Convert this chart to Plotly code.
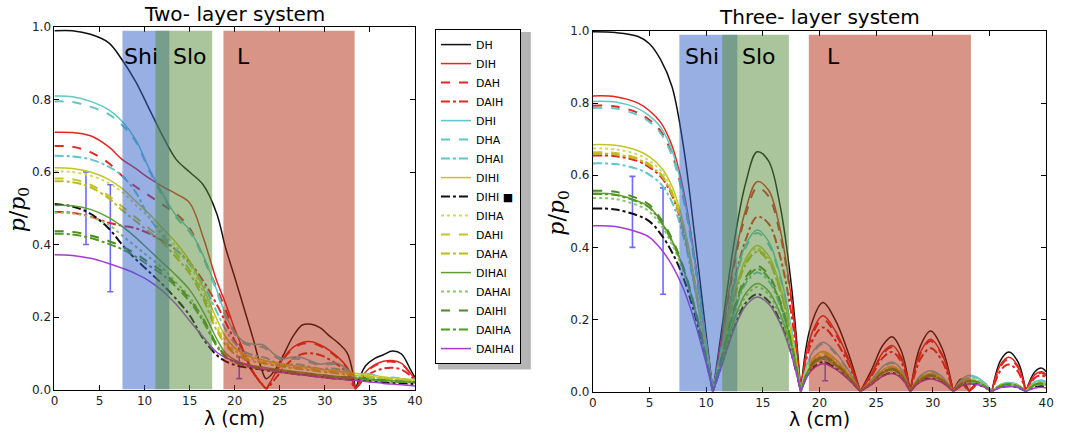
import plotly.graph_objects as go

# ---------------- data ----------------
X_TWO = [0, 2, 4, 6, 7.5, 9, 10.5, 12, 13.5, 15, 16.5, 18, 19, 20, 21, 22, 23, 23.5, 24.5, 25.5,
         26.5, 27.5, 28.5, 29.5, 30.5, 31.5, 32.5, 33.4, 34.5, 35.5, 36.5, 37.5, 38.5, 39.5, 40]
X_THREE = [0, 2, 4, 5, 6, 7, 8, 9, 10, 10.6, 11.5, 12.5, 13.5, 14.5, 15.5, 16.5, 17.5, 18.35,
           19.2, 20.3, 21.4, 22.5, 23.6, 24.6, 25.6, 26.4, 27.2, 28, 28.9, 29.8, 30.8, 31.8,
           32.5, 33.2, 34.2, 35.2, 36, 36.7, 37.5, 38.2, 39, 39.6, 40]

NAMES = ["DH", "DIH", "DAH", "DAIH", "DHI", "DHA", "DHAI", "DIHI", "DIHI \u25a0", "DIHA",
         "DAHI", "DAHA", "DIHAI", "DAHAI", "DAIHI", "DAIHA", "DAIHAI"]

# two-layer system
DH_TWO = [0.99, 0.99, 0.98, 0.957, 0.91, 0.85, 0.775, 0.70, 0.635, 0.60, 0.565, 0.486, 0.39, 0.31, 0.227, 0.144, 0.055, 0.03, 0.055, 0.10, 0.148, 0.178, 0.18, 0.17, 0.148, 0.128, 0.10, 0.0, 0.065, 0.085, 0.096, 0.106, 0.098, 0.055, 0.033]
DIH_TWO = [0.71, 0.709, 0.70, 0.67, 0.635, 0.61, 0.583, 0.56, 0.54, 0.515, 0.42, 0.30, 0.237, 0.167, 0.107, 0.052, 0.015, 0.0, 0.045, 0.09, 0.117, 0.13, 0.132, 0.123, 0.108, 0.088, 0.06, 0.0, 0.048, 0.068, 0.078, 0.08, 0.072, 0.045, 0.029]
DAH_TWO = [0.672, 0.67, 0.655, 0.625, 0.59, 0.56, 0.535, 0.51, 0.485, 0.445, 0.365, 0.28, 0.22, 0.155, 0.1, 0.05, 0.014, 0.0, 0.043, 0.087, 0.113, 0.126, 0.128, 0.12, 0.105, 0.085, 0.058, 0.0, 0.046, 0.065, 0.075, 0.077, 0.07, 0.044, 0.028]
DAIH_TWO = [0.49, 0.488, 0.477, 0.46, 0.452, 0.445, 0.43, 0.41, 0.385, 0.35, 0.3, 0.235, 0.185, 0.135, 0.09, 0.048, 0.016, 0.004, 0.03, 0.062, 0.085, 0.098, 0.1, 0.095, 0.083, 0.067, 0.045, 0.005, 0.035, 0.05, 0.058, 0.06, 0.055, 0.038, 0.025]
DHI_TWO = [0.81, 0.808, 0.795, 0.772, 0.74, 0.69, 0.61, 0.54, 0.48, 0.44, 0.37, 0.275, 0.205, 0.158, 0.132, 0.125, 0.124, 0.118, 0.095, 0.085, 0.09, 0.088, 0.078, 0.07, 0.074, 0.072, 0.055, 0.038, 0.044, 0.04, 0.03, 0.034, 0.03, 0.027, 0.03]
DHA_TWO = [0.795, 0.793, 0.78, 0.76, 0.73, 0.685, 0.605, 0.535, 0.475, 0.435, 0.365, 0.27, 0.2, 0.155, 0.128, 0.12, 0.118, 0.112, 0.09, 0.08, 0.085, 0.083, 0.074, 0.067, 0.07, 0.068, 0.052, 0.036, 0.042, 0.038, 0.028, 0.032, 0.028, 0.026, 0.028]
DHAI_TWO = [0.645, 0.643, 0.635, 0.615, 0.59, 0.545, 0.475, 0.425, 0.385, 0.345, 0.29, 0.215, 0.165, 0.128, 0.105, 0.095, 0.09, 0.087, 0.075, 0.068, 0.07, 0.068, 0.062, 0.057, 0.058, 0.056, 0.046, 0.034, 0.038, 0.034, 0.026, 0.028, 0.025, 0.023, 0.025]
DIHI_TWO = [0.612, 0.61, 0.6, 0.58, 0.555, 0.52, 0.485, 0.445, 0.405, 0.355, 0.28, 0.195, 0.145, 0.115, 0.098, 0.088, 0.082, 0.079, 0.074, 0.07, 0.066, 0.063, 0.06, 0.057, 0.054, 0.051, 0.048, 0.045, 0.042, 0.038, 0.035, 0.032, 0.03, 0.028, 0.027]
DIHISQ_TWO = [0.512, 0.505, 0.485, 0.445, 0.4, 0.36, 0.325, 0.29, 0.25, 0.205, 0.14, 0.095, 0.078, 0.068, 0.062, 0.058, 0.055, 0.053, 0.05, 0.047, 0.044, 0.041, 0.038, 0.035, 0.032, 0.03, 0.028, 0.026, 0.024, 0.022, 0.02, 0.018, 0.017, 0.016, 0.015]
DIHA_TWO = [0.602, 0.6, 0.59, 0.57, 0.545, 0.51, 0.475, 0.435, 0.395, 0.345, 0.27, 0.18, 0.135, 0.108, 0.092, 0.083, 0.077, 0.075, 0.07, 0.066, 0.063, 0.06, 0.057, 0.054, 0.051, 0.048, 0.045, 0.042, 0.039, 0.036, 0.033, 0.03, 0.028, 0.026, 0.025]
DAHI_TWO = [0.582, 0.58, 0.565, 0.535, 0.505, 0.475, 0.445, 0.415, 0.375, 0.33, 0.26, 0.17, 0.128, 0.102, 0.088, 0.08, 0.075, 0.073, 0.068, 0.064, 0.061, 0.058, 0.055, 0.052, 0.049, 0.046, 0.043, 0.04, 0.037, 0.034, 0.031, 0.029, 0.027, 0.025, 0.024]
DAHA_TWO = [0.575, 0.572, 0.558, 0.528, 0.495, 0.465, 0.435, 0.405, 0.365, 0.32, 0.25, 0.163, 0.123, 0.098, 0.085, 0.078, 0.073, 0.071, 0.066, 0.062, 0.059, 0.056, 0.053, 0.05, 0.047, 0.044, 0.041, 0.038, 0.035, 0.032, 0.03, 0.028, 0.026, 0.024, 0.023]
DIHAI_TWO = [0.508, 0.507, 0.497, 0.475, 0.45, 0.42, 0.385, 0.35, 0.315, 0.275, 0.215, 0.14, 0.1, 0.082, 0.072, 0.066, 0.062, 0.06, 0.056, 0.053, 0.05, 0.047, 0.044, 0.041, 0.038, 0.036, 0.034, 0.032, 0.03, 0.028, 0.026, 0.024, 0.022, 0.021, 0.02]
DAHAI_TWO = [0.488, 0.486, 0.476, 0.455, 0.425, 0.395, 0.365, 0.335, 0.295, 0.255, 0.195, 0.125, 0.092, 0.076, 0.068, 0.063, 0.059, 0.057, 0.053, 0.05, 0.047, 0.044, 0.041, 0.039, 0.036, 0.034, 0.032, 0.03, 0.028, 0.026, 0.024, 0.022, 0.021, 0.02, 0.019]
DAIHI_TWO = [0.437, 0.435, 0.425, 0.41, 0.395, 0.375, 0.35, 0.325, 0.29, 0.25, 0.195, 0.125, 0.092, 0.077, 0.068, 0.063, 0.059, 0.057, 0.054, 0.051, 0.048, 0.045, 0.042, 0.04, 0.037, 0.035, 0.033, 0.031, 0.029, 0.027, 0.025, 0.023, 0.022, 0.021, 0.02]
DAIHA_TWO = [0.43, 0.428, 0.418, 0.402, 0.387, 0.367, 0.342, 0.317, 0.283, 0.243, 0.188, 0.12, 0.089, 0.075, 0.066, 0.061, 0.057, 0.055, 0.052, 0.049, 0.046, 0.043, 0.041, 0.039, 0.036, 0.034, 0.032, 0.03, 0.028, 0.026, 0.024, 0.022, 0.021, 0.02, 0.019]
DAIHAI_TWO = [0.372, 0.37, 0.362, 0.348, 0.335, 0.32, 0.3, 0.272, 0.235, 0.19, 0.145, 0.103, 0.088, 0.078, 0.07, 0.063, 0.057, 0.055, 0.05, 0.046, 0.043, 0.04, 0.037, 0.034, 0.031, 0.029, 0.027, 0.025, 0.022, 0.02, 0.017, 0.015, 0.013, 0.011, 0.01]

# three-layer system
DH_THREE = [0.998, 0.996, 0.985, 0.965, 0.92, 0.845, 0.68, 0.43, 0.16, 0, 0.2, 0.42, 0.58, 0.665, 0.64, 0.52, 0.3, 0, 0.178, 0.247, 0.198, 0.111, 0, 0.061, 0.129, 0.152, 0.114, 0, 0.126, 0.168, 0.121, 0, 0.035, 0, 0.03, 0, 0.088, 0.11, 0.083, 0, 0.055, 0.065, 0.055]
DIH_THREE = [0.82, 0.818, 0.8, 0.779, 0.746, 0.681, 0.558, 0.369, 0.139, 0, 0.175, 0.367, 0.506, 0.582, 0.559, 0.454, 0.262, 0, 0.151, 0.21, 0.168, 0.095, 0, 0.051, 0.109, 0.128, 0.096, 0, 0.109, 0.145, 0.104, 0, 0.025, 0, 0.028, 0, 0.076, 0.095, 0.071, 0, 0.047, 0.055, 0.047]
DAH_THREE = [0.793, 0.791, 0.773, 0.753, 0.722, 0.658, 0.539, 0.357, 0.135, 0, 0.17, 0.356, 0.492, 0.565, 0.542, 0.441, 0.254, 0, 0.144, 0.2, 0.16, 0.09, 0, 0.049, 0.105, 0.123, 0.092, 0, 0.105, 0.14, 0.101, 0, 0.024, 0, 0.027, 0, 0.072, 0.09, 0.068, 0, 0.044, 0.052, 0.044]
DAIH_THREE = [0.655, 0.653, 0.639, 0.622, 0.596, 0.544, 0.445, 0.295, 0.111, 0, 0.146, 0.306, 0.422, 0.485, 0.466, 0.378, 0.218, 0, 0.128, 0.178, 0.142, 0.08, 0, 0.044, 0.094, 0.11, 0.083, 0, 0.09, 0.12, 0.086, 0, 0.02, 0, 0.022, 0, 0.06, 0.075, 0.056, 0, 0.038, 0.045, 0.038]
DHI_THREE = [0.805, 0.803, 0.785, 0.765, 0.733, 0.668, 0.547, 0.362, 0.137, 0, 0.143, 0.3, 0.408, 0.448, 0.417, 0.327, 0.179, 0, 0.099, 0.137, 0.11, 0.062, 0, 0.033, 0.07, 0.082, 0.062, 0, 0.044, 0.058, 0.042, 0, 0.032, 0.045, 0.034, 0, 0.02, 0.025, 0.019, 0, 0.027, 0.032, 0.027]
DHA_THREE = [0.787, 0.785, 0.767, 0.748, 0.716, 0.653, 0.535, 0.354, 0.134, 0, 0.141, 0.295, 0.4, 0.44, 0.409, 0.321, 0.176, 0, 0.095, 0.132, 0.106, 0.059, 0, 0.032, 0.067, 0.079, 0.059, 0, 0.042, 0.056, 0.04, 0, 0.03, 0.043, 0.032, 0, 0.019, 0.024, 0.018, 0, 0.026, 0.03, 0.026]
DHAI_THREE = [0.633, 0.631, 0.617, 0.601, 0.576, 0.525, 0.43, 0.285, 0.108, 0, 0.106, 0.221, 0.3, 0.33, 0.307, 0.241, 0.132, 0, 0.079, 0.11, 0.088, 0.05, 0, 0.026, 0.056, 0.066, 0.05, 0, 0.035, 0.047, 0.034, 0, 0.027, 0.038, 0.029, 0, 0.018, 0.022, 0.017, 0, 0.024, 0.028, 0.024]
DIHI_THREE = [0.685, 0.683, 0.668, 0.651, 0.623, 0.569, 0.466, 0.308, 0.116, 0, 0.13, 0.271, 0.369, 0.405, 0.377, 0.296, 0.162, 0, 0.081, 0.112, 0.09, 0.05, 0, 0.028, 0.06, 0.07, 0.053, 0, 0.038, 0.05, 0.036, 0, 0.025, 0.035, 0.026, 0, 0.018, 0.022, 0.017, 0, 0.021, 0.025, 0.021]
DIHISQ_THREE = [0.508, 0.505, 0.488, 0.472, 0.437, 0.386, 0.315, 0.213, 0.086, 0, 0.086, 0.181, 0.246, 0.27, 0.251, 0.197, 0.108, 0, 0.059, 0.082, 0.066, 0.037, 0, 0.021, 0.044, 0.052, 0.039, 0, 0.029, 0.038, 0.027, 0, 0.015, 0.022, 0.017, 0, 0.012, 0.015, 0.011, 0, 0.013, 0.015, 0.013]
DIHA_THREE = [0.674, 0.672, 0.657, 0.64, 0.613, 0.559, 0.458, 0.303, 0.115, 0, 0.127, 0.267, 0.362, 0.398, 0.37, 0.291, 0.159, 0, 0.078, 0.108, 0.086, 0.049, 0, 0.027, 0.058, 0.068, 0.051, 0, 0.036, 0.048, 0.035, 0, 0.023, 0.033, 0.025, 0, 0.017, 0.021, 0.016, 0, 0.02, 0.024, 0.02]
DAHI_THREE = [0.664, 0.662, 0.647, 0.631, 0.604, 0.551, 0.452, 0.299, 0.113, 0, 0.125, 0.263, 0.357, 0.392, 0.365, 0.286, 0.157, 0, 0.075, 0.104, 0.083, 0.047, 0, 0.026, 0.056, 0.066, 0.05, 0, 0.035, 0.047, 0.034, 0, 0.022, 0.032, 0.024, 0, 0.017, 0.021, 0.016, 0, 0.02, 0.023, 0.02]
DAHA_THREE = [0.66, 0.658, 0.644, 0.627, 0.601, 0.548, 0.449, 0.297, 0.112, 0, 0.124, 0.26, 0.353, 0.388, 0.361, 0.283, 0.155, 0, 0.072, 0.1, 0.08, 0.045, 0, 0.026, 0.054, 0.064, 0.048, 0, 0.035, 0.046, 0.033, 0, 0.022, 0.031, 0.023, 0, 0.016, 0.02, 0.015, 0, 0.02, 0.023, 0.02]
DIHAI_THREE = [0.55, 0.547, 0.528, 0.512, 0.473, 0.418, 0.341, 0.231, 0.094, 0, 0.096, 0.201, 0.273, 0.3, 0.279, 0.219, 0.12, 0, 0.065, 0.09, 0.072, 0.041, 0, 0.024, 0.051, 0.06, 0.045, 0, 0.032, 0.042, 0.03, 0, 0.021, 0.03, 0.023, 0, 0.016, 0.02, 0.015, 0, 0.019, 0.022, 0.019]
DAHAI_THREE = [0.537, 0.534, 0.516, 0.499, 0.462, 0.408, 0.333, 0.226, 0.091, 0, 0.093, 0.194, 0.264, 0.29, 0.27, 0.212, 0.116, 0, 0.063, 0.088, 0.07, 0.04, 0, 0.023, 0.049, 0.058, 0.044, 0, 0.031, 0.041, 0.03, 0, 0.02, 0.028, 0.021, 0, 0.015, 0.019, 0.014, 0, 0.018, 0.021, 0.018]
DAIHI_THREE = [0.557, 0.554, 0.535, 0.518, 0.479, 0.423, 0.345, 0.234, 0.095, 0, 0.111, 0.233, 0.317, 0.348, 0.324, 0.254, 0.139, 0, 0.071, 0.098, 0.078, 0.044, 0, 0.025, 0.054, 0.063, 0.047, 0, 0.034, 0.045, 0.032, 0, 0.021, 0.03, 0.023, 0, 0.016, 0.02, 0.015, 0, 0.019, 0.022, 0.019]
DAIHA_THREE = [0.548, 0.545, 0.526, 0.51, 0.471, 0.416, 0.34, 0.23, 0.093, 0, 0.109, 0.228, 0.309, 0.34, 0.316, 0.248, 0.136, 0, 0.068, 0.095, 0.076, 0.043, 0, 0.025, 0.053, 0.062, 0.047, 0, 0.033, 0.044, 0.032, 0, 0.02, 0.029, 0.022, 0, 0.016, 0.02, 0.015, 0, 0.019, 0.022, 0.019]
DAIHAI_THREE = [0.46, 0.458, 0.442, 0.428, 0.396, 0.35, 0.285, 0.193, 0.078, 0, 0.084, 0.176, 0.238, 0.262, 0.244, 0.191, 0.105, 0, 0.055, 0.077, 0.062, 0.035, 0, 0.02, 0.043, 0.05, 0.038, 0, 0.026, 0.035, 0.025, 0, 0.015, 0.022, 0.017, 0, 0.011, 0.014, 0.011, 0, 0.01, 0.012, 0.01]

TWO = [DH_TWO, DIH_TWO, DAH_TWO, DAIH_TWO, DHI_TWO, DHA_TWO, DHAI_TWO, DIHI_TWO, DIHISQ_TWO,
       DIHA_TWO, DAHI_TWO, DAHA_TWO, DIHAI_TWO, DAHAI_TWO, DAIHI_TWO, DAIHA_TWO, DAIHAI_TWO]
THREE = [DH_THREE, DIH_THREE, DAH_THREE, DAIH_THREE, DHI_THREE, DHA_THREE, DHAI_THREE, DIHI_THREE,
         DIHISQ_THREE, DIHA_THREE, DAHI_THREE, DAHA_THREE, DIHAI_THREE, DAHAI_THREE, DAIHI_THREE,
         DAIHA_THREE, DAIHAI_THREE]

# measured points with error bars
ERR_X = [3.5, 6.2, 20.5]
ERR_LOW_TWO = [0.40, 0.27, 0.03]
ERR_HIGH_TWO = [0.60, 0.565, 0.09]
ERR_LOW_THREE = [0.40, 0.27, 0.03]
ERR_HIGH_THREE = [0.597, 0.565, 0.09]

# regions (label, start, end) per panel
REGIONS_TWO = [("Shi", 7.55, 12.74), ("Slo", 11.2, 17.5), ("L", 18.75, 33.3)]
REGIONS_THREE = [("Shi", 7.64, 12.75), ("Slo", 11.42, 17.3), ("L", 19.06, 33.36)]
LABEL_X_TWO = [9.6, 15.0, 21.0]
LABEL_X_THREE = [9.6, 14.65, 21.2]
X_TICKS = [0, 5, 10, 15, 20, 25, 30, 35, 40]
Y_TICKS = [0.0, 0.2, 0.4, 0.6, 0.8, 1.0]

# ---------------- styles ----------------
COLORS = ["#111111", "#e3261f", "#e3261f", "#e3261f", "#63c6c6", "#63c6c6", "#63c6c6",
          "#c4c42a", "#111111", "#d6d65a", "#c4c42a", "#bcbc1e", "#5f9e34", "#8cc46a",
          "#4c8a1e", "#4e9a22", "#a63ad8"]
DASHES = ["solid", "solid", "dash", "dashdot", "solid", "dash", "dashdot", "solid", "dashdot",
          "dot", "dash", "dashdot", "solid", "dot", "dash", "dashdot", "solid"]
REGION_COLORS = ["rgba(50,95,200,0.5)", "rgba(85,140,55,0.5)", "rgba(176,42,16,0.5)"]

W, H = 1065, 435
# measured placement of the paper area in the photographed window (pixels)
PAPER_LEFT, PAPER_WIDTH = 2.5, 1054.3
PAPER_TOP, PAPER_HEIGHT = 8.0, 419.3


def PX(px):
    return (px - PAPER_LEFT) / PAPER_WIDTH


def PY(py):
    return 1 - (py - PAPER_TOP) / PAPER_HEIGHT


def with_cusps(xs, ys):
    """Repeat interior zero points so the spline turns sharply there."""
    ox, oy = [], []
    for i, (a, b) in enumerate(zip(xs, ys)):
        ox.append(a)
        oy.append(b)
        if b == 0 and 0 < i < len(xs) - 1:
            ox.append(a)
            oy.append(b)
    return ox, oy


fig = go.Figure()

for panel, (xs, series, xa, ya) in enumerate([(X_TWO, TWO, "x", "y"), (X_THREE, THREE, "x2", "y2")]):
    lows = ERR_LOW_TWO if panel == 0 else ERR_LOW_THREE
    highs = ERR_HIGH_TWO if panel == 0 else ERR_HIGH_THREE
    mids = [(lo + hi) / 2 for lo, hi in zip(lows, highs)]
    fig.add_trace(go.Scatter(
        x=ERR_X, y=mids, mode="markers", xaxis=xa, yaxis=ya, showlegend=False,
        marker=dict(size=1, color="rgba(0,0,0,0)"),
        error_y=dict(type="data", symmetric=False,
                     array=[h - m for h, m in zip(highs, mids)],
                     arrayminus=[m - l for l, m in zip(lows, mids)],
                     color="#6b6bff", thickness=1.6, width=3),
        hoverinfo="skip"))
    for i, ys in enumerate(series):
        cx, cy = with_cusps(xs, ys)
        width = 1.5 if DASHES[i] == "solid" else 2.0
        fig.add_trace(go.Scatter(
            x=cx, y=cy, mode="lines", name=NAMES[i], xaxis=xa, yaxis=ya,
            showlegend=(panel == 0), legendrank=i + 1,
            line=dict(color=COLORS[i], dash=DASHES[i], width=width, shape="spline",
                      smoothing=1.0, simplify=False)))

shapes = []
annotations = []
for regions, labx, xr, yr, ly in [(REGIONS_TWO, LABEL_X_TWO, "x", "y", 0.92),
                                  (REGIONS_THREE, LABEL_X_THREE, "x2", "y2", 0.93)]:
    for k, (lab, x0, x1) in enumerate(regions):
        shapes.append(dict(type="rect", xref=xr, yref=yr, x0=x0, x1=x1, y0=0, y1=0.99,
                           fillcolor=REGION_COLORS[k], line=dict(width=0), layer="above"))
        annotations.append(dict(text=lab, xref=xr, yref=yr, x=labx[k], y=ly, showarrow=False,
                                font=dict(family="DejaVu Sans", size=22, color="#000"),
                                xanchor="center", yanchor="middle"))

# legend box (top-left in window pixels) and its shadow
LEG_X, LEG_Y, LEG_W, LEG_H = 434, 30, 93, 336
shapes.append(dict(type="rect", xref="paper", yref="paper",
                   x0=PX(LEG_X + 3), x1=PX(LEG_X + LEG_W + 3),
                   y0=PY(LEG_Y + LEG_H + 3), y1=PY(LEG_Y + 3),
                   fillcolor="rgba(120,120,120,0.55)", line=dict(width=0), layer="below"))

annotations += [
    dict(text="Two- layer system", xref="paper", yref="paper", x=PX(233.5), y=PY(15),
         showarrow=False, font=dict(family="DejaVu Sans", size=20, color="#000"),
         xanchor="center", yanchor="middle"),
    dict(text="Three- layer system", xref="paper", yref="paper", x=PX(819), y=PY(18),
         showarrow=False, font=dict(family="DejaVu Sans", size=20, color="#000"),
         xanchor="center", yanchor="middle"),
    dict(text="\u03bb (cm)", xref="paper", yref="paper", x=PX(233.5), y=PY(417),
         showarrow=False, font=dict(family="DejaVu Sans", size=19, color="#000"),
         xanchor="center", yanchor="middle"),
    dict(text="\u03bb (cm)", xref="paper", yref="paper", x=PX(819), y=PY(418),
         showarrow=False, font=dict(family="DejaVu Sans", size=19, color="#000"),
         xanchor="center", yanchor="middle"),
    dict(text="<i>p</i>/<i>p</i><sub>0</sub>", xref="paper", yref="paper", x=PX(18), y=PY(210),
         showarrow=False, textangle=-90, font=dict(family="DejaVu Serif", size=22, color="#000"),
         xanchor="center", yanchor="middle"),
    dict(text="<i>p</i>/<i>p</i><sub>0</sub>", xref="paper", yref="paper", x=PX(558), y=PY(213),
         showarrow=False, textangle=-90, font=dict(family="DejaVu Serif", size=22, color="#000"),
         xanchor="center", yanchor="middle"),
]

axis_common = dict(showgrid=False, zeroline=False, showline=True, linecolor="#000", linewidth=1,
                   mirror="allticks", ticks="inside", ticklen=5, tickcolor="#000",
                   tickfont=dict(family="DejaVu Sans", size=12, color="#222"))

fig.update_layout(
    width=W, height=H, margin=dict(l=0, r=0, t=0, b=0),
    paper_bgcolor="white", plot_bgcolor="white",
    showlegend=True,
    xaxis=dict(domain=[PX(53), PX(414)], range=[0, 40], tickvals=X_TICKS, anchor="y", **axis_common),
    yaxis=dict(domain=[PY(389), PY(28)], range=[0, 1.0], tickvals=Y_TICKS, tickformat=".1f",
               anchor="x", **axis_common),
    xaxis2=dict(domain=[PX(592), PX(1046)], range=[0, 40], tickvals=X_TICKS, anchor="y2", **axis_common),
    yaxis2=dict(domain=[PY(391), PY(32)], range=[0, 1.0], tickvals=Y_TICKS, tickformat=".1f",
                anchor="x2", **axis_common),
    legend=dict(x=PX(LEG_X), y=PY(LEG_Y), xanchor="left", yanchor="top", bgcolor="white",
                bordercolor="#000", borderwidth=1, traceorder="normal",
                font=dict(family="DejaVu Sans", size=11, color="#000"), itemwidth=30),
    shapes=shapes, annotations=annotations,
)

fig.write_html("out.html", config={"displayModeBar": False},
               post_script="document.body.style.margin='0px';document.body.style.overflow='hidden';")
